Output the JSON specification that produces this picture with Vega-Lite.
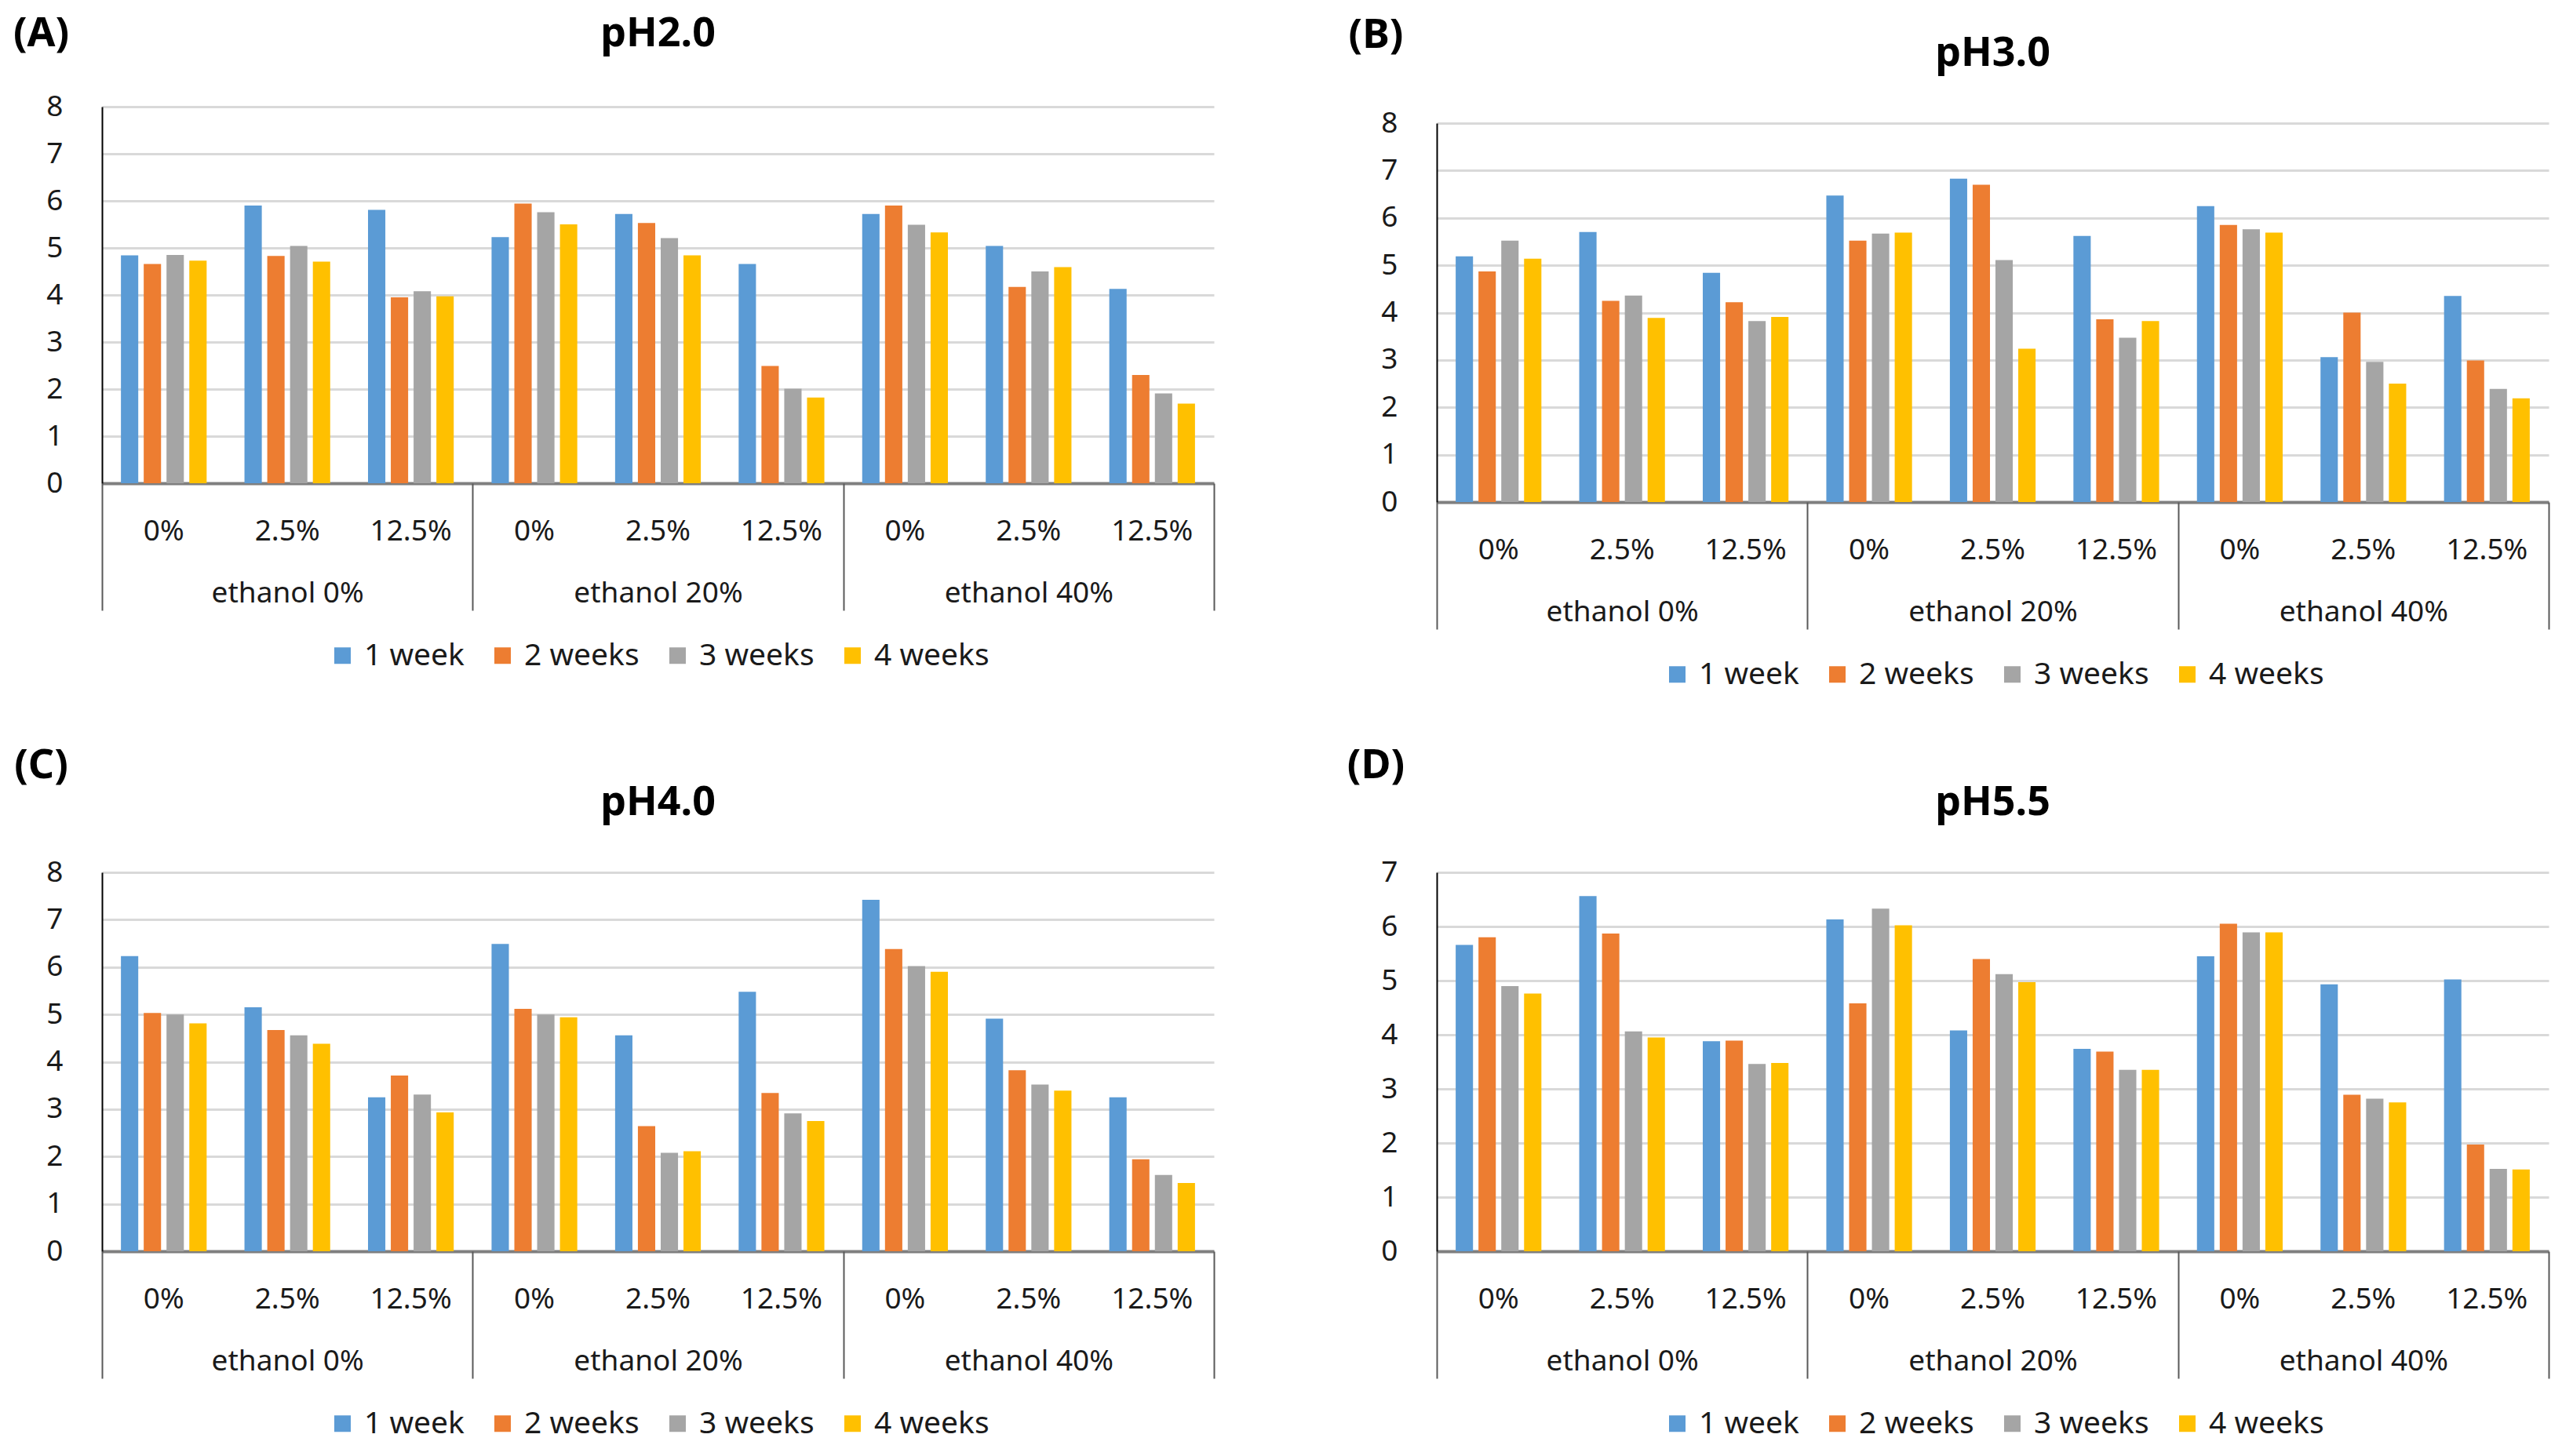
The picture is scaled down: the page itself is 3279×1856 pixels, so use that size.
{
"$schema": "https://vega.github.io/schema/vega-lite/v6.json",
"background": "white",
"padding": {"left": 16, "top": 16, "right": 5, "bottom": 5},
"config": {
  "font": "Noto Sans",
  "view": {"stroke": null},
  "title": {"fontSize": 52, "fontWeight": "bold", "color": "#000", "anchor": "middle"},
  "axis": {"labelFontSize": 37, "labelColor": "#1a1a1a"},
  "axisY": {"grid": true, "gridColor": "#d9d9d9", "gridWidth": 3, "domainColor": "#000", "domainWidth": 2, "ticks": false, "labelPadding": 50, "titleAngle": 0, "titleX": -78, "titleAlign": "center", "titleBaseline": "middle", "titleFontSize": 52, "titleFontWeight": "bold", "titleColor": "#000"},
  "legend": {"orient": "bottom", "direction": "horizontal", "symbolType": "square", "symbolSize": 441, "symbolStrokeWidth": 0, "labelFontSize": 39, "labelColor": "#1a1a1a", "columnPadding": 29, "labelOffset": 8, "offset": 37, "layout": {"bottom": {"anchor": "middle"}}}
},
"datasets": {"d": [
{"p":"A","k":"0|0%","w":"1 week","v":4.84},{"p":"A","k":"0|0%","w":"2 weeks","v":4.66},{"p":"A","k":"0|0%","w":"3 weeks","v":4.85},{"p":"A","k":"0|0%","w":"4 weeks","v":4.73},
{"p":"A","k":"0|2.5%","w":"1 week","v":5.9},{"p":"A","k":"0|2.5%","w":"2 weeks","v":4.83},{"p":"A","k":"0|2.5%","w":"3 weeks","v":5.04},{"p":"A","k":"0|2.5%","w":"4 weeks","v":4.71},
{"p":"A","k":"0|12.5%","w":"1 week","v":5.81},{"p":"A","k":"0|12.5%","w":"2 weeks","v":3.95},{"p":"A","k":"0|12.5%","w":"3 weeks","v":4.08},{"p":"A","k":"0|12.5%","w":"4 weeks","v":3.97},
{"p":"A","k":"20|0%","w":"1 week","v":5.23},{"p":"A","k":"20|0%","w":"2 weeks","v":5.94},{"p":"A","k":"20|0%","w":"3 weeks","v":5.76},{"p":"A","k":"20|0%","w":"4 weeks","v":5.5},
{"p":"A","k":"20|2.5%","w":"1 week","v":5.72},{"p":"A","k":"20|2.5%","w":"2 weeks","v":5.53},{"p":"A","k":"20|2.5%","w":"3 weeks","v":5.21},{"p":"A","k":"20|2.5%","w":"4 weeks","v":4.84},
{"p":"A","k":"20|12.5%","w":"1 week","v":4.66},{"p":"A","k":"20|12.5%","w":"2 weeks","v":2.49},{"p":"A","k":"20|12.5%","w":"3 weeks","v":2.01},{"p":"A","k":"20|12.5%","w":"4 weeks","v":1.82},
{"p":"A","k":"40|0%","w":"1 week","v":5.72},{"p":"A","k":"40|0%","w":"2 weeks","v":5.9},{"p":"A","k":"40|0%","w":"3 weeks","v":5.49},{"p":"A","k":"40|0%","w":"4 weeks","v":5.33},
{"p":"A","k":"40|2.5%","w":"1 week","v":5.04},{"p":"A","k":"40|2.5%","w":"2 weeks","v":4.17},{"p":"A","k":"40|2.5%","w":"3 weeks","v":4.5},{"p":"A","k":"40|2.5%","w":"4 weeks","v":4.59},
{"p":"A","k":"40|12.5%","w":"1 week","v":4.13},{"p":"A","k":"40|12.5%","w":"2 weeks","v":2.3},{"p":"A","k":"40|12.5%","w":"3 weeks","v":1.91},{"p":"A","k":"40|12.5%","w":"4 weeks","v":1.69},
{"p":"B","k":"0|0%","w":"1 week","v":5.19},{"p":"B","k":"0|0%","w":"2 weeks","v":4.87},{"p":"B","k":"0|0%","w":"3 weeks","v":5.52},{"p":"B","k":"0|0%","w":"4 weeks","v":5.14},
{"p":"B","k":"0|2.5%","w":"1 week","v":5.7},{"p":"B","k":"0|2.5%","w":"2 weeks","v":4.25},{"p":"B","k":"0|2.5%","w":"3 weeks","v":4.36},{"p":"B","k":"0|2.5%","w":"4 weeks","v":3.89},
{"p":"B","k":"0|12.5%","w":"1 week","v":4.84},{"p":"B","k":"0|12.5%","w":"2 weeks","v":4.22},{"p":"B","k":"0|12.5%","w":"3 weeks","v":3.82},{"p":"B","k":"0|12.5%","w":"4 weeks","v":3.91},
{"p":"B","k":"20|0%","w":"1 week","v":6.47},{"p":"B","k":"20|0%","w":"2 weeks","v":5.52},{"p":"B","k":"20|0%","w":"3 weeks","v":5.67},{"p":"B","k":"20|0%","w":"4 weeks","v":5.69},
{"p":"B","k":"20|2.5%","w":"1 week","v":6.83},{"p":"B","k":"20|2.5%","w":"2 weeks","v":6.7},{"p":"B","k":"20|2.5%","w":"3 weeks","v":5.11},{"p":"B","k":"20|2.5%","w":"4 weeks","v":3.24},
{"p":"B","k":"20|12.5%","w":"1 week","v":5.62},{"p":"B","k":"20|12.5%","w":"2 weeks","v":3.86},{"p":"B","k":"20|12.5%","w":"3 weeks","v":3.47},{"p":"B","k":"20|12.5%","w":"4 weeks","v":3.82},
{"p":"B","k":"40|0%","w":"1 week","v":6.25},{"p":"B","k":"40|0%","w":"2 weeks","v":5.85},{"p":"B","k":"40|0%","w":"3 weeks","v":5.76},{"p":"B","k":"40|0%","w":"4 weeks","v":5.69},
{"p":"B","k":"40|2.5%","w":"1 week","v":3.06},{"p":"B","k":"40|2.5%","w":"2 weeks","v":4.0},{"p":"B","k":"40|2.5%","w":"3 weeks","v":2.96},{"p":"B","k":"40|2.5%","w":"4 weeks","v":2.5},
{"p":"B","k":"40|12.5%","w":"1 week","v":4.35},{"p":"B","k":"40|12.5%","w":"2 weeks","v":2.99},{"p":"B","k":"40|12.5%","w":"3 weeks","v":2.39},{"p":"B","k":"40|12.5%","w":"4 weeks","v":2.19},
{"p":"C","k":"0|0%","w":"1 week","v":6.23},{"p":"C","k":"0|0%","w":"2 weeks","v":5.03},{"p":"C","k":"0|0%","w":"3 weeks","v":5.0},{"p":"C","k":"0|0%","w":"4 weeks","v":4.81},
{"p":"C","k":"0|2.5%","w":"1 week","v":5.15},{"p":"C","k":"0|2.5%","w":"2 weeks","v":4.67},{"p":"C","k":"0|2.5%","w":"3 weeks","v":4.56},{"p":"C","k":"0|2.5%","w":"4 weeks","v":4.38},
{"p":"C","k":"0|12.5%","w":"1 week","v":3.25},{"p":"C","k":"0|12.5%","w":"2 weeks","v":3.71},{"p":"C","k":"0|12.5%","w":"3 weeks","v":3.31},{"p":"C","k":"0|12.5%","w":"4 weeks","v":2.93},
{"p":"C","k":"20|0%","w":"1 week","v":6.49},{"p":"C","k":"20|0%","w":"2 weeks","v":5.12},{"p":"C","k":"20|0%","w":"3 weeks","v":5.0},{"p":"C","k":"20|0%","w":"4 weeks","v":4.94},
{"p":"C","k":"20|2.5%","w":"1 week","v":4.56},{"p":"C","k":"20|2.5%","w":"2 weeks","v":2.64},{"p":"C","k":"20|2.5%","w":"3 weeks","v":2.08},{"p":"C","k":"20|2.5%","w":"4 weeks","v":2.11},
{"p":"C","k":"20|12.5%","w":"1 week","v":5.48},{"p":"C","k":"20|12.5%","w":"2 weeks","v":3.34},{"p":"C","k":"20|12.5%","w":"3 weeks","v":2.91},{"p":"C","k":"20|12.5%","w":"4 weeks","v":2.75},
{"p":"C","k":"40|0%","w":"1 week","v":7.42},{"p":"C","k":"40|0%","w":"2 weeks","v":6.38},{"p":"C","k":"40|0%","w":"3 weeks","v":6.02},{"p":"C","k":"40|0%","w":"4 weeks","v":5.9},
{"p":"C","k":"40|2.5%","w":"1 week","v":4.91},{"p":"C","k":"40|2.5%","w":"2 weeks","v":3.82},{"p":"C","k":"40|2.5%","w":"3 weeks","v":3.52},{"p":"C","k":"40|2.5%","w":"4 weeks","v":3.39},
{"p":"C","k":"40|12.5%","w":"1 week","v":3.25},{"p":"C","k":"40|12.5%","w":"2 weeks","v":1.94},{"p":"C","k":"40|12.5%","w":"3 weeks","v":1.61},{"p":"C","k":"40|12.5%","w":"4 weeks","v":1.44},
{"p":"D","k":"0|0%","w":"1 week","v":5.66},{"p":"D","k":"0|0%","w":"2 weeks","v":5.8},{"p":"D","k":"0|0%","w":"3 weeks","v":4.9},{"p":"D","k":"0|0%","w":"4 weeks","v":4.76},
{"p":"D","k":"0|2.5%","w":"1 week","v":6.56},{"p":"D","k":"0|2.5%","w":"2 weeks","v":5.87},{"p":"D","k":"0|2.5%","w":"3 weeks","v":4.06},{"p":"D","k":"0|2.5%","w":"4 weeks","v":3.95},
{"p":"D","k":"0|12.5%","w":"1 week","v":3.88},{"p":"D","k":"0|12.5%","w":"2 weeks","v":3.89},{"p":"D","k":"0|12.5%","w":"3 weeks","v":3.46},{"p":"D","k":"0|12.5%","w":"4 weeks","v":3.48},
{"p":"D","k":"20|0%","w":"1 week","v":6.13},{"p":"D","k":"20|0%","w":"2 weeks","v":4.58},{"p":"D","k":"20|0%","w":"3 weeks","v":6.33},{"p":"D","k":"20|0%","w":"4 weeks","v":6.02},
{"p":"D","k":"20|2.5%","w":"1 week","v":4.08},{"p":"D","k":"20|2.5%","w":"2 weeks","v":5.4},{"p":"D","k":"20|2.5%","w":"3 weeks","v":5.12},{"p":"D","k":"20|2.5%","w":"4 weeks","v":4.97},
{"p":"D","k":"20|12.5%","w":"1 week","v":3.74},{"p":"D","k":"20|12.5%","w":"2 weeks","v":3.69},{"p":"D","k":"20|12.5%","w":"3 weeks","v":3.35},{"p":"D","k":"20|12.5%","w":"4 weeks","v":3.35},
{"p":"D","k":"40|0%","w":"1 week","v":5.45},{"p":"D","k":"40|0%","w":"2 weeks","v":6.05},{"p":"D","k":"40|0%","w":"3 weeks","v":5.89},{"p":"D","k":"40|0%","w":"4 weeks","v":5.89},
{"p":"D","k":"40|2.5%","w":"1 week","v":4.93},{"p":"D","k":"40|2.5%","w":"2 weeks","v":2.89},{"p":"D","k":"40|2.5%","w":"3 weeks","v":2.82},{"p":"D","k":"40|2.5%","w":"4 weeks","v":2.75},
{"p":"D","k":"40|12.5%","w":"1 week","v":5.02},{"p":"D","k":"40|12.5%","w":"2 weeks","v":1.97},{"p":"D","k":"40|12.5%","w":"3 weeks","v":1.52},{"p":"D","k":"40|12.5%","w":"4 weeks","v":1.51}
]},
"resolve": {"legend": {"color": "independent"}, "scale": {"color": "independent"}},
"spacing": 166,
"hconcat": [
 {"spacing": 93, "resolve": {"legend": {"color": "independent"}, "scale": {"color": "independent"}},
  "vconcat": [
  {"width": 1417, "height": 480, "title": {"text": "pH2.0", "offset": -54},
   "layer": [
    {"data": {"name": "d"}, "transform": [{"filter": "datum.p === 'A'"}], "mark": {"type": "bar"},
     "encoding": {
      "x": {"field": "k", "type": "nominal", "sort": null, "scale": {"paddingInner": 0, "paddingOuter": 0}, "axis": {"title": null, "labelExpr": "split(datum.label, '|')[1]", "ticks": false, "domainColor": "#7f7f7f", "domainWidth": 4, "labelPadding": 43, "labelAngle": 0}},
      "xOffset": {"field": "w", "type": "nominal", "scale": {"paddingInner": 0.24, "paddingOuter": 0.83}},
      "y": {"field": "v", "type": "quantitative", "scale": {"domain": [0, 8], "nice": false}, "axis": {"title": "(A)", "values": [0,1,2,3,4,5,6,7,8], "titleY": -94}},
      "color": {"field": "w", "type": "nominal", "scale": {"domain": ["1 week","2 weeks","3 weeks","4 weeks"], "range": ["#5B9BD5","#ED7D31","#A5A5A5","#FFC000"]}, "legend": {"title": null}}
     }},
    {"data": {"values": [{"g": 0}, {"g": 3}]}, "mark": {"type": "point", "opacity": 0},
     "encoding": {"x": {"field": "g", "type": "quantitative", "scale": {"domain": [0, 3], "nice": false, "zero": false},
       "axis": {"orient": "bottom", "title": null, "grid": false, "domain": false, "values": [0,0.5,1,1.5,2,2.5,3], "tickSize": 162, "tickWidth": 2, "tickColor": "#595959", "tickOpacity": {"condition": {"test": "datum.value % 1 === 0", "value": 1}, "value": 0}, "labelExpr": "datum.value === 0.5 ? 'ethanol 0%' : datum.value === 1.5 ? 'ethanol 20%' : datum.value === 2.5 ? 'ethanol 40%' : ''", "labelPadding": -40, "labelLimit": 600, "labelFlush": false, "labelOverlap": false, "labelBound": false}}}}
   ],
   "resolve": {"scale": {"x": "independent"}, "axis": {"x": "independent"}}},
  {"width": 1417, "height": 483, "title": {"text": "pH4.0", "offset": -101},
   "layer": [
    {"data": {"name": "d"}, "transform": [{"filter": "datum.p === 'C'"}], "mark": {"type": "bar"},
     "encoding": {
      "x": {"field": "k", "type": "nominal", "sort": null, "scale": {"paddingInner": 0, "paddingOuter": 0}, "axis": {"title": null, "labelExpr": "split(datum.label, '|')[1]", "ticks": false, "domainColor": "#7f7f7f", "domainWidth": 4, "labelPadding": 43, "labelAngle": 0}},
      "xOffset": {"field": "w", "type": "nominal", "scale": {"paddingInner": 0.24, "paddingOuter": 0.83}},
      "y": {"field": "v", "type": "quantitative", "scale": {"domain": [0, 8], "nice": false}, "axis": {"title": "(C)", "values": [0,1,2,3,4,5,6,7,8], "titleY": -137}},
      "color": {"field": "w", "type": "nominal", "scale": {"domain": ["1 week","2 weeks","3 weeks","4 weeks"], "range": ["#5B9BD5","#ED7D31","#A5A5A5","#FFC000"]}, "legend": {"title": null}}
     }},
    {"data": {"values": [{"g": 0}, {"g": 3}]}, "mark": {"type": "point", "opacity": 0},
     "encoding": {"x": {"field": "g", "type": "quantitative", "scale": {"domain": [0, 3], "nice": false, "zero": false},
       "axis": {"orient": "bottom", "title": null, "grid": false, "domain": false, "values": [0,0.5,1,1.5,2,2.5,3], "tickSize": 162, "tickWidth": 2, "tickColor": "#595959", "tickOpacity": {"condition": {"test": "datum.value % 1 === 0", "value": 1}, "value": 0}, "labelExpr": "datum.value === 0.5 ? 'ethanol 0%' : datum.value === 1.5 ? 'ethanol 20%' : datum.value === 2.5 ? 'ethanol 40%' : ''", "labelPadding": -40, "labelLimit": 600, "labelFlush": false, "labelOverlap": false, "labelBound": false}}}}
   ],
   "resolve": {"scale": {"x": "independent"}, "axis": {"x": "independent"}}}
 ]},
 {"spacing": 69, "resolve": {"legend": {"color": "independent"}, "scale": {"color": "independent"}},
  "vconcat": [
  {"width": 1417, "height": 504, "title": {"text": "pH3.0", "offset": -77},
   "layer": [
    {"data": {"name": "d"}, "transform": [{"filter": "datum.p === 'B'"}], "mark": {"type": "bar"},
     "encoding": {
      "x": {"field": "k", "type": "nominal", "sort": null, "scale": {"paddingInner": 0, "paddingOuter": 0}, "axis": {"title": null, "labelExpr": "split(datum.label, '|')[1]", "ticks": false, "domainColor": "#7f7f7f", "domainWidth": 4, "labelPadding": 43, "labelAngle": 0}},
      "xOffset": {"field": "w", "type": "nominal", "scale": {"paddingInner": 0.24, "paddingOuter": 0.83}},
      "y": {"field": "v", "type": "quantitative", "scale": {"domain": [0, 8], "nice": false, "range": [504, 21]}, "axis": {"title": "(B)", "values": [0,1,2,3,4,5,6,7,8], "titleY": -92}},
      "color": {"field": "w", "type": "nominal", "scale": {"domain": ["1 week","2 weeks","3 weeks","4 weeks"], "range": ["#5B9BD5","#ED7D31","#A5A5A5","#FFC000"]}, "legend": {"title": null}}
     }},
    {"data": {"values": [{"g": 0}, {"g": 3}]}, "mark": {"type": "point", "opacity": 0},
     "encoding": {"x": {"field": "g", "type": "quantitative", "scale": {"domain": [0, 3], "nice": false, "zero": false},
       "axis": {"orient": "bottom", "title": null, "grid": false, "domain": false, "values": [0,0.5,1,1.5,2,2.5,3], "tickSize": 162, "tickWidth": 2, "tickColor": "#595959", "tickOpacity": {"condition": {"test": "datum.value % 1 === 0", "value": 1}, "value": 0}, "labelExpr": "datum.value === 0.5 ? 'ethanol 0%' : datum.value === 1.5 ? 'ethanol 20%' : datum.value === 2.5 ? 'ethanol 40%' : ''", "labelPadding": -40, "labelLimit": 600, "labelFlush": false, "labelOverlap": false, "labelBound": false}}}}
   ],
   "resolve": {"scale": {"x": "independent"}, "axis": {"x": "independent"}}},
  {"width": 1417, "height": 483, "title": {"text": "pH5.5", "offset": -101},
   "layer": [
    {"data": {"name": "d"}, "transform": [{"filter": "datum.p === 'D'"}], "mark": {"type": "bar"},
     "encoding": {
      "x": {"field": "k", "type": "nominal", "sort": null, "scale": {"paddingInner": 0, "paddingOuter": 0}, "axis": {"title": null, "labelExpr": "split(datum.label, '|')[1]", "ticks": false, "domainColor": "#7f7f7f", "domainWidth": 4, "labelPadding": 43, "labelAngle": 0}},
      "xOffset": {"field": "w", "type": "nominal", "scale": {"paddingInner": 0.24, "paddingOuter": 0.83}},
      "y": {"field": "v", "type": "quantitative", "scale": {"domain": [0, 7], "nice": false}, "axis": {"title": "(D)", "values": [0,1,2,3,4,5,6,7], "titleY": -137}},
      "color": {"field": "w", "type": "nominal", "scale": {"domain": ["1 week","2 weeks","3 weeks","4 weeks"], "range": ["#5B9BD5","#ED7D31","#A5A5A5","#FFC000"]}, "legend": {"title": null}}
     }},
    {"data": {"values": [{"g": 0}, {"g": 3}]}, "mark": {"type": "point", "opacity": 0},
     "encoding": {"x": {"field": "g", "type": "quantitative", "scale": {"domain": [0, 3], "nice": false, "zero": false},
       "axis": {"orient": "bottom", "title": null, "grid": false, "domain": false, "values": [0,0.5,1,1.5,2,2.5,3], "tickSize": 162, "tickWidth": 2, "tickColor": "#595959", "tickOpacity": {"condition": {"test": "datum.value % 1 === 0", "value": 1}, "value": 0}, "labelExpr": "datum.value === 0.5 ? 'ethanol 0%' : datum.value === 1.5 ? 'ethanol 20%' : datum.value === 2.5 ? 'ethanol 40%' : ''", "labelPadding": -40, "labelLimit": 600, "labelFlush": false, "labelOverlap": false, "labelBound": false}}}}
   ],
   "resolve": {"scale": {"x": "independent"}, "axis": {"x": "independent"}}}
 ]}
]
}
